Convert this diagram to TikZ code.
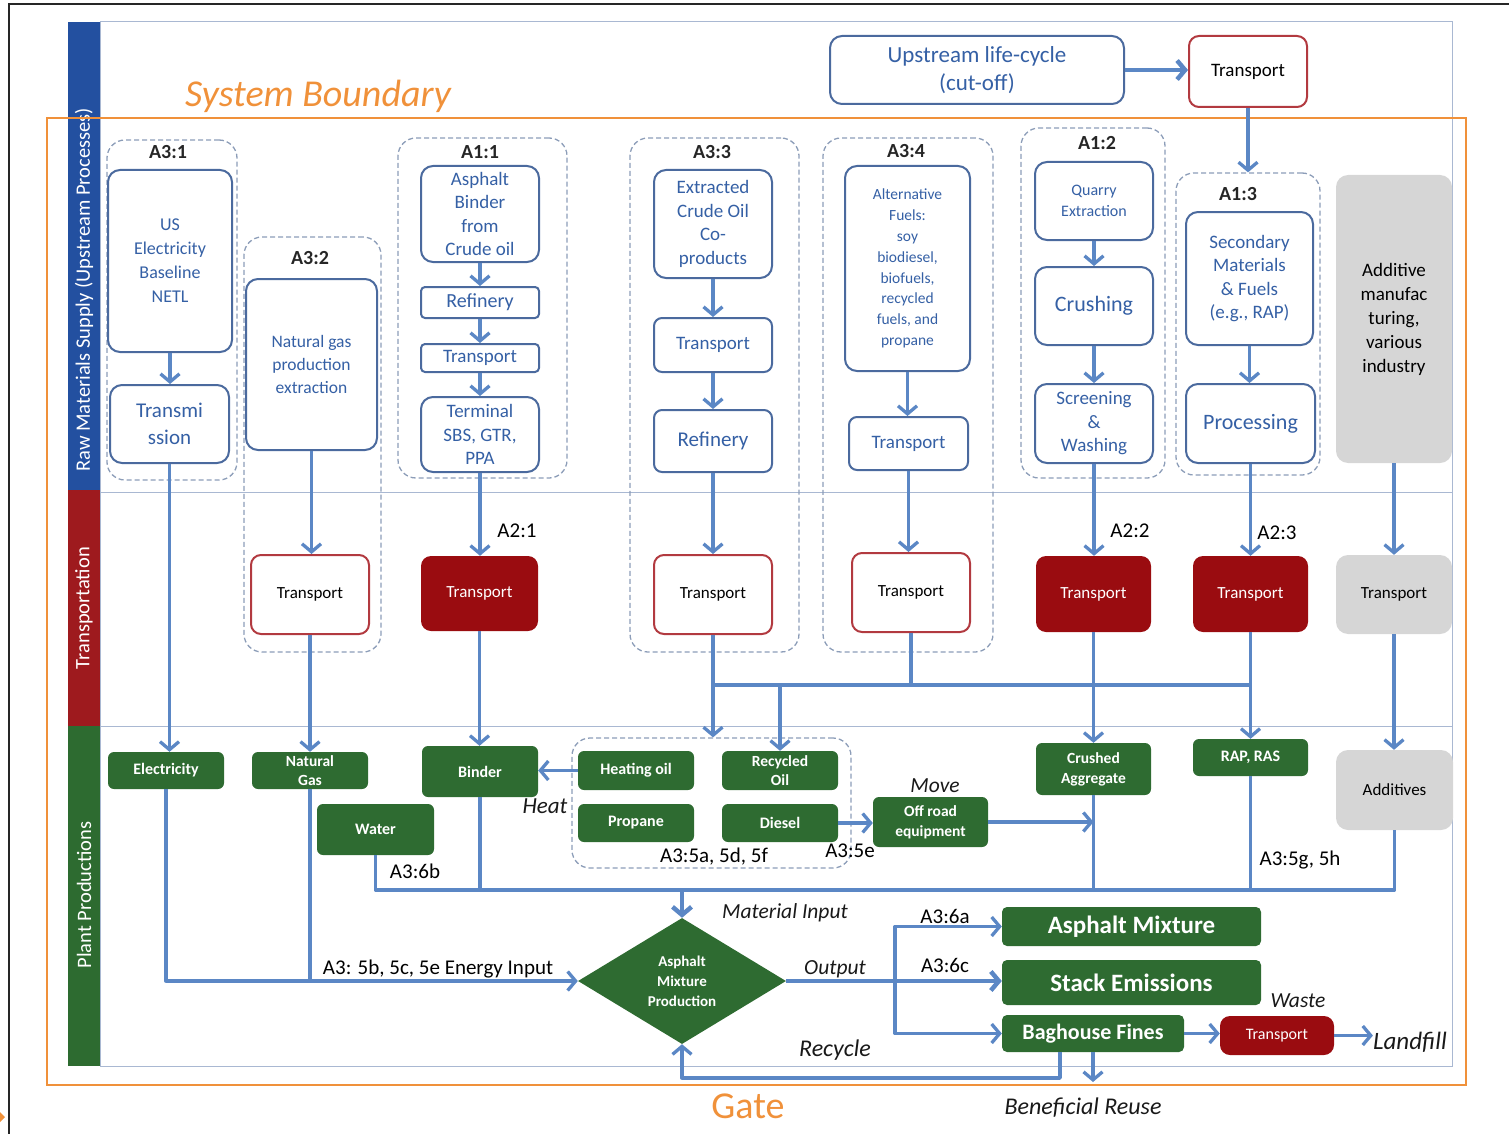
\documentclass[tikz,border=0pt]{standalone}
\usepackage{fontspec}
\setmainfont{Carlito}
\usetikzlibrary{arrows.meta,shapes.geometric}

\definecolor{laneblue}{HTML}{2350A0}
\definecolor{lanered}{HTML}{9E1A1E}
\definecolor{lanegreen}{HTML}{2D6B30}
\definecolor{boxline}{HTML}{4B6A9E}
\definecolor{boxtext}{HTML}{3560A5}
\definecolor{flow}{HTML}{5B87C5}
\definecolor{darkred}{HTML}{9A0C10}
\definecolor{redline}{HTML}{B23A40}
\definecolor{plantgreen}{HTML}{2E6B31}
\definecolor{greybox}{HTML}{D6D6D6}
\definecolor{boundary}{HTML}{F0913A}
\definecolor{grpline}{HTML}{8C9DB8}
\definecolor{frameline}{HTML}{A9B8D2}

\newcommand\fsz[2]{\fontsize{#1}{#2}\selectfont}
% box from its corners: name, x1, y1, x2, y2, style, text
\newcommand\bx[7]{\node[#6, minimum width={#4-#2}, minimum height={#5-#3}] (#1) at ({(#2+#4)/2},{(#3+#5)/2}) {#7};}

\tikzset{
  proc/.style={draw=boxline, line width=2pt, rounded corners=12pt, fill=white, text=boxtext, align=center, inner sep=0pt},
  grp/.style={draw=grpline, line width=1.3pt, dash pattern=on 5pt off 3pt, rounded corners=18pt, inner sep=0pt},
  tred/.style={draw=redline, line width=2pt, rounded corners=10pt, fill=white, text=black, align=center, inner sep=0pt, font=\fsz{17}{20}},
  tdark/.style={fill=darkred, rounded corners=10pt, text=white, align=center, inner sep=0pt, font=\fsz{17}{20}},
  plant/.style={fill=plantgreen, rounded corners=6pt, text=white, align=center, inner sep=0pt, font=\fsz{16}{19}\bfseries},
  greyb/.style={fill=greybox, rounded corners=12pt, text=black, align=center, inner sep=0pt},
  outb/.style={fill=plantgreen, rounded corners=5pt, text=white, align=center, inner sep=0pt, font=\fsz{25}{28}\bfseries},
  flowline/.style={draw=flow, line width=3.3pt},
  heavy/.style={line width=4.5pt},
  arr/.style={flowline, -{Straight Barb[length=8pt,width=19pt]}},
  lab/.style={font=\fsz{21}{25}, text=black, inner sep=0pt},
  grplab/.style={font=\fsz{20}{24}\bfseries, text=black!85, inner sep=0pt},
  ital/.style={font=\fsz{21.5}{25}\itshape, text=black!90, inner sep=0pt},
  lanetxt/.style={rotate=90, text=white, font=\fsz{20.5}{25}, inner sep=0pt},
}

\begin{document}
\begin{tikzpicture}[x=1pt,y=-1pt]
\useasboundingbox (0,0) rectangle (1509,1134);

% page frame
\draw[black!85, line width=1.5pt] (9,1134) -- (9,4) -- (1509,4);
\fill[boundary] (0,1112) -- (5,1117) -- (0,1122) -- cycle;

% swim lanes
\draw[frameline, line width=1pt] (100,22) rectangle (1452,1066);
\draw[frameline, line width=1pt] (100,492) -- (1452,492);
\draw[frameline, line width=1pt] (100,726) -- (1452,726);
\fill[laneblue] (68,22) rectangle (100,490);
\fill[lanered] (68,490) rectangle (100,726);
\fill[lanegreen] (68,726) rectangle (100,1066);
\node[lanetxt] (lane1) at (84,290) {Raw Materials Supply (Upstream Processes)};
\node[lanetxt] (lane2) at (84,608) {Transportation};
\node[lanetxt] (lane3) at (84,895) {Plant Productions};

% system boundary
\draw[boundary, line width=2.5pt] (47,118) rectangle (1466,1085);
\node[text=boundary, font=\fsz{38}{42}\itshape, inner sep=0pt] (sbtxt) at (318,96) {System Boundary};
\node[text=boundary, font=\fsz{38}{42}, inner sep=0pt] (gatetxt) at (748,1106) {Gate};

% dashed process groups
\bx{g31}{107}{140}{237}{480}{grp}{}
\bx{g32}{244}{237}{381}{652}{grp}{}
\bx{g11}{398}{138}{567}{478}{grp}{}
\bx{g33}{630}{138}{799}{652}{grp}{}
\bx{g34}{823}{138}{993}{652}{grp}{}
\bx{g12}{1021}{128}{1165}{478}{grp}{}
\bx{g13}{1176}{173}{1320}{475}{grp}{}
\bx{g5}{572}{738}{851}{868}{grp}{}

\node[grplab] (l31) at (168,152) {A3:1};
\node[grplab] (l32) at (310,258) {A3:2};
\node[grplab] (l11) at (480,152) {A1:1};
\node[grplab] (l33) at (712,152) {A3:3};
\node[grplab] (l34) at (906,151) {A3:4};
\node[grplab] (l12) at (1097,143) {A1:2};
\node[grplab] (l13) at (1238,194) {A1:3};

% upstream
\bx{up}{830}{36}{1124}{104}{proc, font=\fsz{23}{28}}{Upstream life-cycle\\(cut-off)}
\bx{t0}{1189}{36}{1307}{107}{tred, font=\fsz{19}{23}}{Transport}

% raw materials supply
\bx{usel}{108}{170}{232}{352}{proc, font=\fsz{18}{24}}{US\\Electricity\\Baseline\\NETL}
\bx{tmis}{110}{385}{229}{463}{proc, font=\fsz{21}{27}}{Transmi\\ssion}
\bx{ngp}{246}{279}{377}{450}{proc, font=\fsz{17.5}{23}}{Natural gas\\production\\extraction}
\bx{abind}{421}{166}{539}{262}{proc, font=\fsz{19}{23.5}}{Asphalt\\Binder\\from\\Crude oil}
\bx{ref1}{421}{287}{539}{318}{proc, rounded corners=4pt, font=\fsz{20}{24}}{Refinery}
\bx{trn1}{421}{344}{539}{372}{proc, rounded corners=4pt, font=\fsz{19}{23}}{Transport}
\bx{term1}{421}{397}{539}{472}{proc, font=\fsz{19}{23.5}}{Terminal\\SBS, GTR,\\PPA}
\bx{ecop}{654}{170}{772}{278}{proc, font=\fsz{19}{23.5}}{Extracted\\Crude Oil\\Co-\\products}
\bx{trn3}{654}{318}{772}{372}{proc, rounded corners=8pt, font=\fsz{19}{23}}{Transport}
\bx{ref3}{654}{410}{772}{472}{proc, rounded corners=8pt, font=\fsz{21}{25}}{Refinery}
\bx{alt}{845}{166}{970}{371}{proc, font=\fsz{15.5}{20.8}}{Alternative\\Fuels:\\soy\\biodiesel,\\biofuels,\\recycled\\fuels, and\\propane}
\bx{trn4}{849}{417}{968}{470}{proc, rounded corners=8pt, font=\fsz{19}{23}}{Transport}
\bx{quar}{1035}{162}{1153}{240}{proc, font=\fsz{16}{21}}{Quarry\\Extraction}
\bx{crush}{1035}{267}{1153}{345}{proc, font=\fsz{22}{26}}{Crushing}
\bx{scrn}{1035}{384}{1153}{463}{proc, font=\fsz{19}{23.5}}{Screening\\\&\\Washing}
\bx{sec}{1186}{212}{1313}{345}{proc, font=\fsz{19}{23.5}}{Secondary\\Materials\\\& Fuels\\(e.g., RAP)}
\bx{proc}{1186}{384}{1315}{463}{proc, font=\fsz{22}{26}}{Processing}
\bx{addm}{1336}{175}{1452}{463}{greyb, font=\fsz{19}{24}}{Additive\\manufac\\turing,\\various\\industry}

% transportation
\bx{t32}{251}{555}{369}{634}{tred}{Transport}
\bx{t21}{421}{556}{538}{631}{tdark}{Transport}
\bx{t33}{654}{555}{772}{634}{tred}{Transport}
\bx{t34}{852}{553}{970}{632}{tred}{Transport}
\bx{t22}{1036}{556}{1151}{632}{tdark}{Transport}
\bx{t23}{1193}{556}{1308}{632}{tdark}{Transport}
\bx{tgr}{1336}{555}{1452}{634}{greyb, font=\fsz{17}{20}}{Transport}
\node[lab] (l21) at (517,531) {A2:1};
\node[lab] (l22) at (1130,531) {A2:2};
\node[lab] (l23) at (1277,533) {A2:3};

% plant productions
\bx{elec}{108}{752}{224}{789}{plant}{Electricity}
\bx{ngas}{252}{752}{368}{789}{plant, font=\fsz{15.5}{19}\bfseries}{Natural\\Gas}
\bx{bind}{422}{746}{538}{797}{plant}{Binder}
\bx{water}{317}{804}{434}{855}{plant}{Water}
\bx{hoil}{578}{751}{694}{790}{plant}{Heating oil}
\bx{roil}{722}{751}{838}{790}{plant, font=\fsz{15.5}{19}\bfseries}{Recycled\\Oil}
\bx{prop}{578}{804}{694}{842}{plant}{Propane}
\bx{dsl}{722}{804}{838}{842}{plant}{Diesel}
\bx{offr}{873}{797}{988}{847}{plant, font=\fsz{15.5}{20}\bfseries}{Off road\\equipment}
\bx{crag}{1036}{743}{1151}{795}{plant, font=\fsz{15.5}{20}\bfseries}{Crushed\\Aggregate}
\bx{rap}{1193}{739}{1308}{776}{plant}{RAP, RAS}
\bx{addv}{1336}{750}{1453}{830}{greyb, font=\fsz{17}{20}}{Additives}

\node[diamond, fill=plantgreen, inner sep=0pt, minimum width=208, minimum height=126,
      label={[text=white, font=\fsz{15}{20}\bfseries, align=center]center:Asphalt\\Mixture\\Production}] (diam) at (682,981) {};

\bx{amix}{1002}{907}{1261}{946}{outb}{Asphalt Mixture}
\bx{stack}{1002}{960}{1261}{1005}{outb}{Stack Emissions}
\bx{bag}{1002}{1015}{1184}{1052}{outb, font=\fsz{22}{25}\bfseries}{Baghouse Fines}
\bx{trw}{1220}{1016}{1334}{1055}{tdark, font=\fsz{16}{19}}{Transport}

% plant labels
\node[ital, font=\fsz{23}{26}\itshape] (heat) at (545,806) {Heat};
\node[ital] (move) at (935,786) {Move};
\node[lab] (l5adf) at (714,857) {A3:5a, 5d, 5f};
\node[lab] (l5e) at (850,851) {A3:5e};
\node[lab] (l6b) at (415,871) {A3:6b};
\node[lab] (l5gh) at (1300,860) {A3:5g, 5h};
\node[ital] (matin) at (785,913) {Material Input};
\node[lab] (energy) at (438,969) {A3: 5b, 5c, 5e Energy Input};
\node[ital] (outp) at (835,969) {Output};
\node[lab] (l6a) at (945,916) {A3:6a};
\node[lab] (l6c) at (945,965) {A3:6c};
\node[ital] (waste) at (1298,1001) {Waste};
\node[ital, font=\fsz{25}{28}\itshape] (lf) at (1410,1042) {Landfill};
\node[ital, font=\fsz{24}{27}\itshape] (recyc) at (835,1050) {Recycle};
\node[ital, font=\fsz{24}{27}\itshape] (bru) at (1083,1108) {Beneficial Reuse};

% bus and branch points
\coordinate (hb) at (712,685);
\coordinate (mb) at (682,890);
\coordinate (split) at (895,981);
\coordinate (rc) at (1060,1078);
\coordinate (bt) at (1093,1082);

% upstream flows
\draw[arr, heavy] (up.east) -- (up.east -| t0.west);
\draw[arr] (t0.south) -- (t0.south |- g13.north);
\draw[arr] (usel.south) -- (usel.south |- tmis.north);
\draw[arr] (tmis.south) -- (tmis.south |- elec.north);
\draw[arr] (ngp.south) -- (ngp.south |- t32.north);
\draw[arr] (t32.south) -- (t32.south |- ngas.north);
\draw[arr] (abind.south) -- (ref1.north);
\draw[arr] (ref1.south) -- (trn1.north);
\draw[arr] (trn1.south) -- (term1.north);
\draw[arr] (term1.south) -- (term1.south |- t21.north);
\draw[arr] (t21.south) -- (t21.south |- bind.north);
\draw[arr] (ecop.south) -- (trn3.north);
\draw[arr] (trn3.south) -- (ref3.north);
\draw[arr] (ref3.south) -- (t33.north);
\draw[arr] (t33.south) -- (t33.south |- g5.north);
\draw[arr] (alt.south) -- (alt.south |- trn4.north);
\draw[arr] (trn4.south) -- (trn4.south |- t34.north);
\draw[arr] (quar.south) -- (crush.north);
\draw[arr] (crush.south) -- (scrn.north);
\draw[arr] (scrn.south) -- (scrn.south |- t22.north);
\draw[arr] (t22.south) -- (t22.south |- crag.north);
\draw[arr] (sec.south) -- (sec.south |- proc.north);
\draw[arr] (proc.south) -- (proc.south |- t23.north);
\draw[arr] (t23.south) -- (t23.south |- rap.north);
\draw[arr] (addm.south) -- (addm.south |- tgr.north);
\draw[arr] (tgr.south) -- (tgr.south |- addv.north);

% fuels bus
\draw[flowline] (t33.south |- hb) -- (t23.south |- hb);
\draw[flowline] (t34.south) -- (t34.south |- hb);
\draw[arr] (roil.north |- hb) -- (roil.north);

% plant flows
\draw[arr] (hoil.west) -- (hoil.west -| bind.east);
\draw[arr] (dsl.east) -- (dsl.east -| offr.west);
\draw[arr] (offr.east) -- (offr.east -| crag.south);

% material input bus
\draw[flowline, line join=round] (water.south) -- (water.south |- mb) -- (mb -| addv.south) -- (addv.south);
\draw[flowline, heavy] (water.south |- mb) -- (mb -| addv.south);
\draw[flowline] (bind.south) -- (bind.south |- mb);
\draw[flowline] (crag.south) -- (crag.south |- mb);
\draw[flowline] (rap.south) -- (rap.south |- mb);
\draw[arr, heavy] (mb) -- (diam.north);

% energy input
\draw[arr, line join=round] (elec.south) |- (diam.west);
\draw[flowline] (ngas.south) -- (ngas.south |- diam.west);

% outputs
\draw[arr, heavy] (diam.east) -- (diam.east -| stack.west);
\draw[arr, line join=round] (split) |- (amix.west);
\draw[arr, line join=round] (split) |- (bag.west);
\draw[arr] (bag.east) -- (bag.east -| trw.west);
\draw[arr] (trw.east) -- (trw.east -| lf.west);
\draw[arr, line join=round] (rc |- bag.south) -- (rc) -| (diam.south);
\draw[arr] (bag.south) -- (bag.south |- bt);
\end{tikzpicture}
\end{document}
